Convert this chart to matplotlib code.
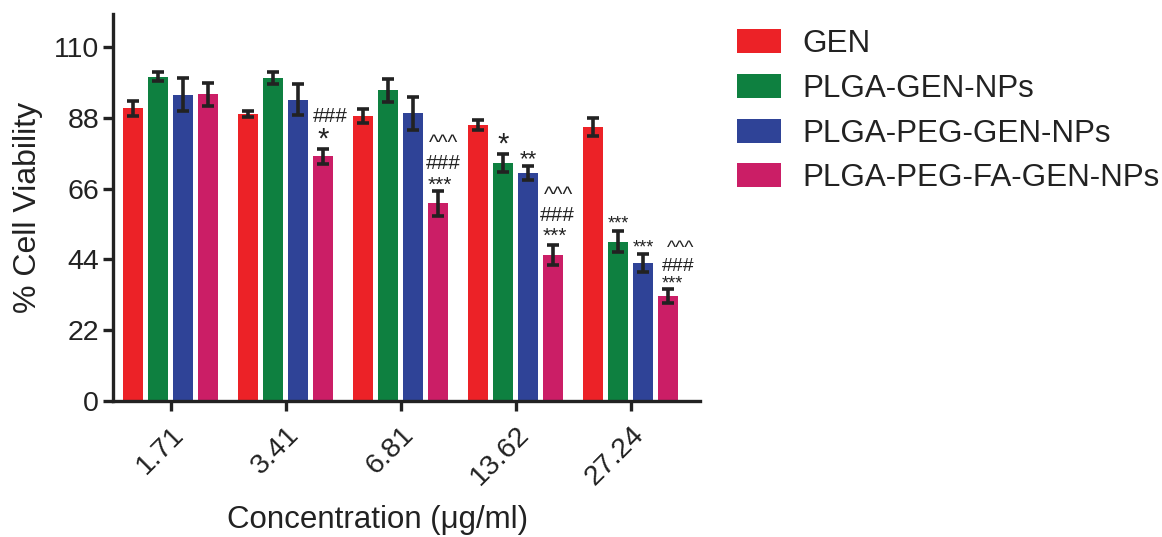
import numpy as np
import matplotlib
matplotlib.use("Agg")
import matplotlib.pyplot as plt
from matplotlib.patches import Patch

plt.rcParams['font.family'] = ['Liberation Sans', 'DejaVu Sans']

# ── Data ──────────────────────────────────────────────────────────
concentrations = ['1.71', '3.41', '6.81', '13.62', '27.24']
series_names = ['GEN', 'PLGA-GEN-NPs', 'PLGA-PEG-GEN-NPs', 'PLGA-PEG-FA-GEN-NPs']
colors = ['#EC2227', '#0E8040', '#2F4397', '#CB1E66']

gen_mean       = [91.0, 89.2, 88.7, 85.8, 85.2]
gen_err        = [2.4, 1.0, 2.2, 1.5, 2.9]
plga_mean      = [100.8, 100.3, 96.6, 73.9, 49.5]
plga_err       = [1.4, 1.9, 3.6, 2.8, 3.3]
plga_peg_mean  = [95.2, 93.7, 89.4, 70.8, 42.8]
plga_peg_err   = [5.2, 4.8, 5.2, 2.1, 2.8]
plga_fa_mean   = [95.3, 76.0, 61.4, 45.4, 32.6]
plga_fa_err    = [3.6, 2.4, 3.9, 3.0, 2.2]

means = [gen_mean, plga_mean, plga_peg_mean, plga_fa_mean]
errs = [gen_err, plga_err, plga_peg_err, plga_fa_err]

# significance marks: (group, series) -> list of (text, fontsize, dy px, dx px)
marks = {
    (1, 3): [('*', 21, 9, 0), ('###', 15, 32, 7)],
    (2, 3): [('***', 15, 6, 2), ('###', 15, 27, 5), ('^^^', 15, 47, 5)],
    (3, 1): [('*', 21, 10, 0)],
    (3, 2): [('**', 16, 7, 0)],
    (3, 3): [('***', 15, 9, 2), ('###', 15, 30, 4), ('^^^', 15, 50, 5)],
    (4, 1): [('***', 13, 7, 0)],
    (4, 2): [('***', 13, 6, 0)],
    (4, 3): [('***', 13, 5, 4), ('###', 14, 23, 10), ('^^^', 14, 41, 12)],
}

yticks = [0, 22, 44, 66, 88, 110]

# ── Figure ────────────────────────────────────────────────────────
fig = plt.figure(figsize=(11.62, 5.37), dpi=100)
ax = fig.add_axes([0.0972, 0.2533, 0.505, 0.7207])

x = np.arange(len(concentrations))
step = 0.217
width = 0.174
px2pt = 72 / 100

for i, (m, e) in enumerate(zip(means, errs)):
    xpos = x + (i - 1.5) * step
    ax.bar(xpos, m, width, color=colors[i], edgecolor='none', zorder=2)
    ax.errorbar(xpos, m, yerr=e, fmt='none', ecolor='#222222',
                elinewidth=2.6, capsize=4.5, capthick=2.6, zorder=3)
    for g in range(len(concentrations)):
        for txt, fs, dy, dx in marks.get((g, i), []):
            ax.annotate(txt, xy=(xpos[g], m[g] + e[g]),
                        xytext=(dx * px2pt, dy * px2pt),
                        textcoords='offset points', ha='center',
                        va='center', fontsize=fs, color='#222222')

ax.set_xlim(-0.504, 4.6)
ax.set_ylim(0, 120.3)
ax.set_yticks(yticks)
ax.set_xticks(x)
ax.set_xticklabels(concentrations, rotation=45, ha='right',
                   rotation_mode='anchor')

for s in ['top', 'right']:
    ax.spines[s].set_visible(False)
for s in ['left', 'bottom']:
    ax.spines[s].set_linewidth(2.4)
    ax.spines[s].set_color('#222222')

ax.tick_params(axis='both', width=2.4, length=7, color='#222222',
               labelsize=20.5, labelcolor='#222222', pad=3)
ax.tick_params(axis='x', pad=8)

ax.set_ylabel('% Cell Viability', fontsize=23, color='#222222', labelpad=8)
ax.set_xlabel('Concentration (\u03bcg/ml)', fontsize=22.5, color='#222222')
ax.xaxis.set_label_coords(0.451, -0.27)

handles = [Patch(facecolor=c, edgecolor='none') for c in colors]
fig.legend(handles, series_names, loc='upper left',
           bbox_to_anchor=(0.634, 0.946), frameon=False, fontsize=22.6,
           borderpad=0, borderaxespad=0,
           handlelength=1.4, handleheight=0.8, handletextpad=0.7,
           labelspacing=0.47, labelcolor='#222222')

fig.savefig('out.png', dpi=100)
